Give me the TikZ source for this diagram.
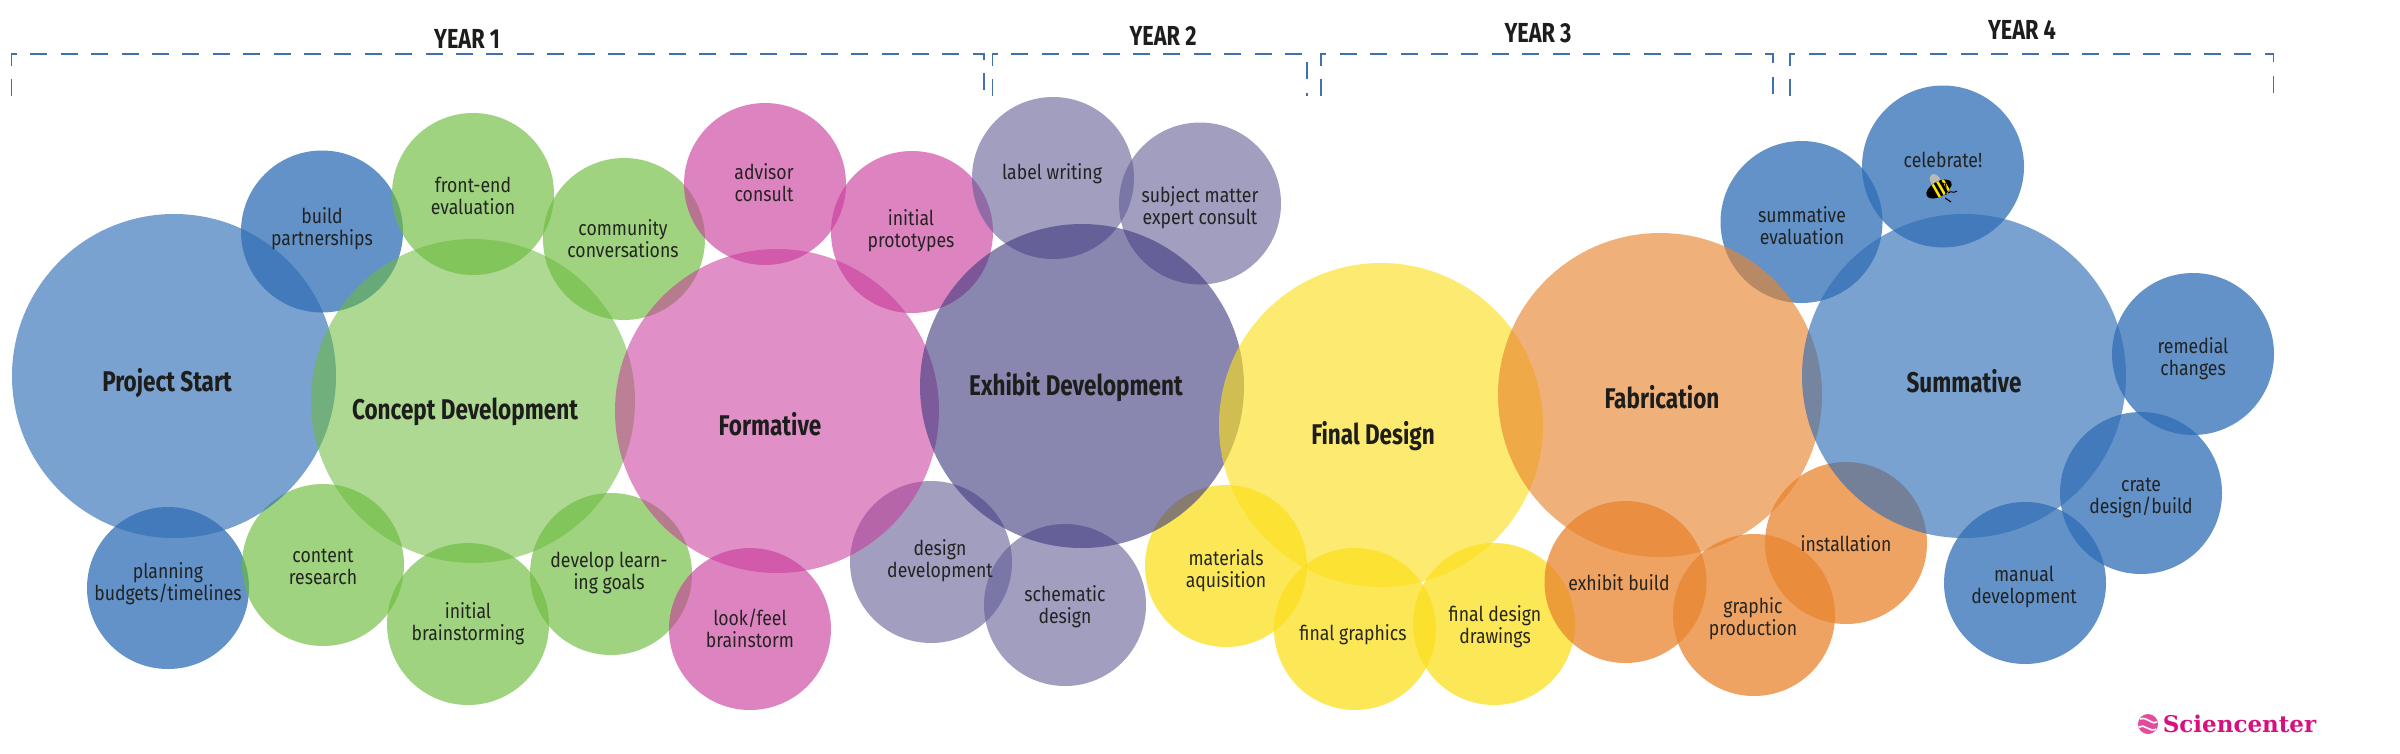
\documentclass[tikz,border=0pt]{standalone}
\usepackage{fontspec}
\setmainfont{Fira Sans}[FakeStretch=0.86]
\newfontfamily\headfont{Fira Sans}[FakeStretch=0.79,UprightFont=* Bold,BoldFont=* Bold]
\newfontfamily\logofont{DejaVu Serif}[BoldFont=* Bold]
\definecolor{cblue}{HTML}{2F6DB5}
\definecolor{cgreen}{HTML}{6CBB3C}
\definecolor{cpink}{HTML}{C8399A}
\definecolor{cpurple}{HTML}{403B80}
\definecolor{cpurpleb}{HTML}{5F5A94}
\definecolor{cyellow}{HTML}{FBDF1F}
\definecolor{corange}{HTML}{E8842F}
\definecolor{inkc}{HTML}{1D1D1B}
\definecolor{brk}{HTML}{3F70B0}
\definecolor{logoc}{HTML}{D8107F}
\tikzset{
  big/.style={circle,inner sep=0pt,minimum size=324pt,fill=#1,fill opacity=.64},
  small/.style={circle,inner sep=0pt,minimum size=162pt,fill=#1,fill opacity=.75},
  softS/.style={fill opacity=.65},
  softK/.style={fill opacity=.62},
  softB/.style={fill opacity=.56},
  softP/.style={fill opacity=.59},
  title/.style={font=\headfont\fontsize{28.5}{30}\selectfont,text=inkc,align=center,inner sep=0pt},
  lab/.style={font=\fontsize{20.5}{22}\selectfont,text=inkc,align=center,inner sep=0pt,text opacity=.95},
  yearlab/.style={font=\headfont\fontsize{27.5}{28}\selectfont,text=inkc,inner sep=0pt},
  bracket/.style={draw=brk,line width=1.9pt,dash pattern=on 17pt off 13.4pt}
}
\begin{document}
\begin{tikzpicture}[x=1pt,y=-1pt]
\useasboundingbox (0,0) rectangle (2400,753);
% small circles
\node[small=cblue] (cBuild) at (322,231.5) {};
\node[small=cgreen,softS] (cFront) at (473,194) {};
\node[small=cgreen,softS] (cComm) at (624,239) {};
\node[small=cpink,softK] (cAdv) at (765,184) {};
\node[small=cpink,softK] (cProto) at (912,232) {};
\node[small=cpurpleb,softP] (cLabel) at (1053,178) {};
\node[small=cpurpleb,softP] (cSubj) at (1200,203.5) {};
\node[small=cpurpleb,softP] (cDes) at (931,562) {};
\node[small=cpurpleb,softP] (cSchem) at (1065,605) {};
\node[small=cyellow] (cMat) at (1226,566) {};
\node[small=cyellow] (cGraph) at (1355,629) {};
\node[small=cyellow] (cDraw) at (1494,624) {};
\node[small=corange] (cBuildx) at (1625.5,582) {};
\node[small=corange] (cProd) at (1754,615) {};
\node[small=corange] (cInst) at (1846,543) {};
\node[small=cblue] (cMan) at (2025,583) {};
\node[small=cblue] (cCrate) at (2141,493) {};
\node[small=cblue] (cRem) at (2193,354) {};
\node[small=cblue] (cEval) at (1801.5,222) {};
\node[small=cblue] (cCel) at (1943,166.5) {};
\node[small=cblue] (cPlan) at (168,588) {};
\node[small=cgreen,softS] (cCont) at (323,565) {};
\node[small=cgreen,softS] (cInit) at (468,624) {};
\node[small=cgreen,softS] (cDev) at (611,574) {};
\node[small=cpink,softK] (cLook) at (750,629) {};
% big circles
\node[big=cblue] (bStart) at (174,376) {};
\node[big=cgreen,softB] (bConcept) at (473,401) {};
\node[big=cpink,softB] (bForm) at (777,411) {};
\node[big=cpurple,fill opacity=.62] (bExh) at (1082,386) {};
\node[big=cyellow] (bFinal) at (1381,425) {};
\node[big=corange] (bFab) at (1660,395) {};
\node[big=cblue] (bSum) at (1964,376) {};
% titles
\node[title] (tStart) at (167,383) {Project Start};
\node[title] (tConcept) at (465,412) {Concept Development};
\node[title] (tForm) at (770,424) {Formative};
\node[title] (tExh) at (1076,387) {Exhibit Development};
\node[title] (tFinal) at (1373,436) {Final Design};
\node[title] (tFab) at (1662,397) {Fabrication};
\node[title] (tSum) at (1964,381) {Summative};
% labels
\node[lab] (lBuild) at (322,228.5) {build\\partnerships};
\node[lab] (lFront) at (473,195.5) {front-end\\evaluation};
\node[lab] (lComm) at (623,238.5) {community\\conversations};
\node[lab] (lAdv) at (764,182.5) {advisor\\consult};
\node[lab] (lProto) at (911,230.5) {initial\\prototypes};
\node[lab] (lLabel) at (1052,174) {label writing};
\node[lab] (lSubj) at (1200,207.5) {subject matter\\expert consult};
\node[lab] (lDes) at (940,560.5) {design\\development};
\node[lab] (lSchem) at (1065,607) {schematic\\design};
\node[lab] (lMat) at (1226,570.5) {materials\\aquisition};
\node[lab] (lGraph) at (1353,634.5) {final graphics};
\node[lab] (lDraw) at (1495,626.5) {final design\\drawings};
\node[lab] (lBuildx) at (1619,582.5) {exhibit build};
\node[lab] (lProd) at (1753,618.5) {graphic\\production};
\node[lab] (lInst) at (1846,543.5) {installation};
\node[lab] (lEval) at (1802,225.5) {summative\\evaluation};
\node[lab] (lCel) at (1943,159.5) {celebrate!};
\node[lab] (lRem) at (2193,358.5) {remedial\\changes};
\node[lab] (lCrate) at (2141,497.5) {crate\\design/build};
\node[lab] (lMan) at (2024,586.5) {manual\\development};
\node[lab] (lPlan) at (168,583.5) {planning\\budgets/timelines};
\node[lab] (lCont) at (323,566.5) {content\\research};
\node[lab] (lInit) at (468,623.5) {initial\\brainstorming};
\node[lab] (lDev) at (609,572.5) {develop learn-\\ing goals};
\node[lab] (lLook) at (750,628.5) {look/feel\\brainstorm};
% years
\node[yearlab] (y1) at (467,39) {YEAR 1};
\node[yearlab] (y2) at (1163,36) {YEAR 2};
\node[yearlab] (y3) at (1538,33) {YEAR 3};
\node[yearlab] (y4) at (2022,30) {YEAR 4};
% brackets
\coordinate (a1) at (11.5,96); \coordinate (a2) at (11.5,54); \coordinate (a3) at (984,54); \coordinate (a4) at (984,96);
\coordinate (b1) at (992.5,96); \coordinate (b2) at (992.5,54); \coordinate (b3) at (1307,54); \coordinate (b4) at (1307,96);
\coordinate (c1) at (1321,96); \coordinate (c2) at (1321,54); \coordinate (c3) at (1773,54); \coordinate (c4) at (1773,96);
\coordinate (d1) at (1790,96); \coordinate (d2) at (1790,54); \coordinate (d3) at (2273.5,54); \coordinate (d4) at (2273.5,96);
\draw[bracket] (a1) -- (a2) -- (a3) -- (a4);
\draw[bracket] (b1) -- (b2) -- (b3) -- (b4);
\draw[bracket] (c1) -- (c2) -- (c3) -- (c4);
\draw[bracket] (d1) -- (d2) -- (d3) -- (d4);
% bee
\begin{scope}[shift={(1939,189)},rotate=-150,yscale=-1]
  \fill[gray!55!white] (-1,-9) ellipse (5 and 7);
  \begin{scope}
  \clip (0,0) ellipse (14 and 7.5);
  \fill[black] (0,0) ellipse (14 and 7.5);
  \fill[yellow!85!orange] (-9,-9) rectangle (-6.5,9);
  \fill[yellow!85!orange] (-3.5,-9) rectangle (-1,9);
  \fill[yellow!85!orange] (2,-9) rectangle (4.5,9);
  \end{scope}
\end{scope}
\draw[black,line width=1pt] (1945,183) .. controls (1947,188) and (1945,190) .. (1946,195);
\draw[black,line width=1pt] (1948,193) .. controls (1951,190) and (1953,194) .. (1957,191);
\draw[black,line width=1pt] (1944,183) .. controls (1942,186) and (1940,184) .. (1941,180);
\draw[black,line width=1pt] (1945,198) -- (1951,202);
% logo
\fill[logoc!75!white] (2148,724) circle (10);
\draw[white,line width=1.6pt] (2140,719) .. controls (2147,716) and (2153,726) .. (2157,722);
\draw[white,line width=1.6pt] (2139,727) .. controls (2144,723) and (2150,733) .. (2156,729);
\node[font=\logofont\bfseries\fontsize{23}{25}\selectfont,text=logoc,inner sep=0pt] (logo) at (2239.5,724) {Sciencenter};
\end{tikzpicture}
\end{document}
